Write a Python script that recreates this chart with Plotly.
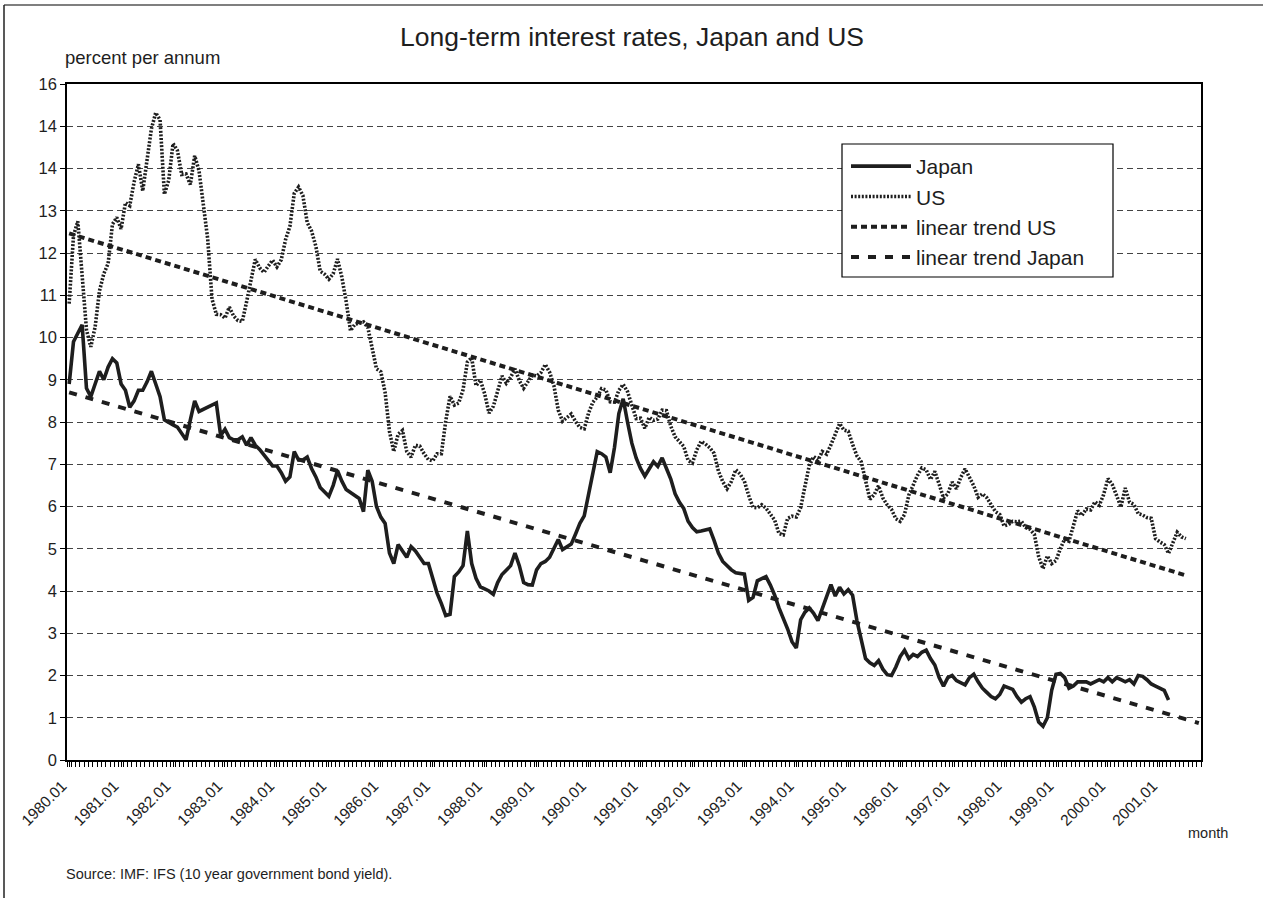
import numpy as np
import plotly.graph_objects as go

# monthly data, index 0 = 1980.01; the category axis runs 1980.01 - 2001.10
n_months = 262

us_rate = [
    10.80, 12.41, 12.75, 11.47, 10.18, 9.78, 10.25, 11.10, 11.51, 11.75, 12.68, 12.84,
    12.57, 13.19, 13.12, 13.68, 14.10, 13.47, 14.28, 14.94, 15.32, 15.15, 13.39, 13.72,
    14.59, 14.43, 13.86, 13.87, 13.62, 14.30, 13.95, 13.06, 12.34, 10.91, 10.55, 10.54,
    10.46, 10.72, 10.51, 10.40, 10.38, 10.85, 11.38, 11.85, 11.65, 11.54, 11.69, 11.83,
    11.67, 11.84, 12.32, 12.63, 13.41, 13.56, 13.36, 12.72, 12.52, 12.16, 11.57, 11.50,
    11.38, 11.51, 11.86, 11.43, 10.85, 10.16, 10.31, 10.33, 10.37, 10.24, 9.78, 9.26,
    9.19, 8.70, 7.78, 7.30, 7.71, 7.80, 7.30, 7.17, 7.45, 7.43, 7.25, 7.11,
    7.08, 7.25, 7.25, 8.02, 8.61, 8.40, 8.45, 8.76, 9.42, 9.52, 8.86, 8.99,
    8.67, 8.21, 8.37, 8.72, 9.09, 8.92, 9.06, 9.26, 8.98, 8.80, 8.96, 9.11,
    9.09, 9.17, 9.36, 9.18, 8.86, 8.28, 8.02, 8.11, 8.19, 8.01, 7.87, 7.84,
    8.21, 8.47, 8.59, 8.79, 8.76, 8.48, 8.47, 8.75, 8.89, 8.72, 8.39, 8.08,
    8.09, 7.85, 8.11, 8.04, 8.07, 8.28, 8.27, 7.90, 7.65, 7.53, 7.42, 7.09,
    7.03, 7.34, 7.54, 7.48, 7.39, 7.26, 6.84, 6.59, 6.42, 6.59, 6.87, 6.77,
    6.60, 6.26, 5.98, 5.97, 6.04, 5.96, 5.81, 5.68, 5.36, 5.33, 5.72, 5.77,
    5.75, 5.97, 6.48, 6.97, 7.18, 7.10, 7.30, 7.24, 7.46, 7.74, 7.96, 7.81,
    7.78, 7.47, 7.20, 7.06, 6.63, 6.17, 6.28, 6.49, 6.20, 6.04, 5.93, 5.71,
    5.65, 5.81, 6.27, 6.51, 6.74, 6.91, 6.87, 6.64, 6.83, 6.53, 6.20, 6.30,
    6.58, 6.42, 6.69, 6.89, 6.71, 6.49, 6.22, 6.30, 6.21, 6.03, 5.88, 5.81,
    5.54, 5.57, 5.65, 5.64, 5.65, 5.50, 5.46, 5.34, 4.81, 4.53, 4.83, 4.65,
    4.72, 5.00, 5.23, 5.18, 5.54, 5.90, 5.79, 5.94, 5.92, 6.11, 6.03, 6.28,
    6.66, 6.52, 6.26, 5.99, 6.44, 6.10, 6.05, 5.83, 5.80, 5.74, 5.72, 5.24,
    5.16, 5.10, 4.89, 5.14, 5.39, 5.28, 5.24,
]

japan_rate = [
    8.90, 9.90, 10.10, 10.30, 8.80, 8.60, 8.90, 9.20, 9.00, 9.30, 9.50, 9.40,
    8.90, 8.75, 8.35, 8.50, 8.75, 8.75, 8.95, 9.20, 8.90, 8.60, 8.05, 7.98,
    7.93, 7.88, 7.73, 7.58, 8.05, 8.50, 8.25, 8.30, 8.35, 8.40, 8.45, 7.68,
    7.83, 7.63, 7.58, 7.58, 7.65, 7.45, 7.63, 7.45, 7.35, 7.22, 7.10, 6.96,
    6.96, 6.80, 6.60, 6.70, 7.30, 7.10, 7.10, 7.17, 6.90, 6.70, 6.45, 6.35,
    6.24, 6.50, 6.85, 6.60, 6.40, 6.33, 6.25, 6.19, 5.88, 6.86, 6.60, 6.00,
    5.75, 5.60, 4.90, 4.65, 5.10, 4.95, 4.80, 5.05, 4.95, 4.80, 4.65,
    4.65, 4.30, 3.95, 3.70, 3.42, 3.45, 4.34, 4.45, 4.60, 5.42, 4.65, 4.30,
    4.10, 4.05, 4.00, 3.92, 4.20, 4.39, 4.50, 4.60, 4.90, 4.60, 4.20, 4.15,
    4.14, 4.50, 4.65, 4.70, 4.80, 5.00, 5.22, 4.98, 5.05, 5.11, 5.35, 5.60,
    5.78, 6.30, 6.80, 7.30, 7.25, 7.17, 6.80, 7.40, 8.20, 8.55, 8.00, 7.50,
    7.15, 6.90, 6.72, 6.90, 7.06, 6.95, 7.15, 6.90, 6.65, 6.30, 6.10, 5.95,
    5.65, 5.50, 5.40, 5.42, 5.45, 5.47, 5.20, 4.90, 4.70, 4.60, 4.50, 4.43,
    4.42, 4.40, 3.78, 3.85, 4.24, 4.30, 4.34, 4.14, 3.90, 3.60, 3.37, 3.10,
    2.80, 2.65, 3.32, 3.50, 3.60, 3.47, 3.30, 3.60, 3.85, 4.15, 3.88, 4.09,
    3.93, 4.03, 3.90, 3.30, 2.85, 2.40, 2.30, 2.24, 2.35, 2.15, 2.02,
    2.00, 2.20, 2.45, 2.60, 2.40, 2.50, 2.45, 2.55, 2.60, 2.40, 2.25, 1.95,
    1.75, 1.95, 2.00, 1.88, 1.82, 1.78, 1.95, 2.03, 1.85, 1.70, 1.60, 1.50,
    1.45, 1.55, 1.75, 1.70, 1.67, 1.50, 1.37, 1.45, 1.50, 1.25, 0.90, 0.80,
    1.00, 1.65, 2.03, 2.05, 1.95, 1.70, 1.75, 1.85, 1.85, 1.85, 1.80, 1.85,
    1.90, 1.85, 1.95, 1.85, 1.95, 1.90, 1.85, 1.90, 1.80, 2.00, 1.98, 1.90,
    1.80, 1.75, 1.70, 1.65, 1.42,
]

years = list(range(1980, 2002))
tick_labels = [f"{y}.01" for y in years[:-1]] + ["2001,01"]
y_labels = ["0", "1", "2", "3", "4", "5", "6", "7", "8", "9", "10",
            "11", "12", "13", "14", "14", "16"]

x_us = np.arange(len(us_rate))
x_jp = np.arange(len(japan_rate))
x_all = np.arange(n_months)

# linear trends (least squares); the Japan one is carried to the end of the axis
us_trend = np.polyval(np.polyfit(x_us, us_rate, 1), x_us)
jp_trend = np.polyval(np.polyfit(x_jp, japan_rate, 1), x_all)

# plot area in pixels
W, H = 1263, 898
L, R, T, B = 67, 1201, 84, 760


def px(x):
    return (x - L) / (R - L)


def py(y):
    return (B - y) / (B - T)


ink = "#1e1e1e"
font = "Liberation Sans, Arial, sans-serif"

fig = go.Figure()
fig.add_trace(go.Scatter(x=x_jp, y=japan_rate, name="Japan", mode="lines",
                         line=dict(color=ink, width=3.6)))
fig.add_trace(go.Scatter(x=x_us, y=us_rate, name="US", mode="lines",
                         line=dict(color=ink, width=3.6, dash="2px,1.6px")))
fig.add_trace(go.Scatter(x=x_us, y=us_trend, name="linear trend US", mode="lines",
                         line=dict(color=ink, width=4, dash="6px,4px")))
fig.add_trace(go.Scatter(x=x_all, y=jp_trend, name="linear trend Japan", mode="lines",
                         line=dict(color=ink, width=4, dash="8px,9px")))

fig.update_layout(
    width=W, height=H,
    margin=dict(l=L, r=W - R, t=T, b=H - B),
    paper_bgcolor="white", plot_bgcolor="white",
    font=dict(family=font, size=16, color=ink),
    showlegend=True,
    legend=dict(x=px(846), y=py(146), xanchor="left", yanchor="top",
                borderwidth=0, bgcolor="rgba(0,0,0,0)", itemwidth=60,
                font=dict(size=21)),
    annotations=[
        dict(text="Long-term interest rates, Japan and US", x=px(632), y=py(37),
             xref="paper", yref="paper", showarrow=False, font=dict(size=26.5),
             xanchor="center", yanchor="middle"),
        dict(text="percent per annum", x=px(63), y=py(57), xref="paper", yref="paper",
             showarrow=False, font=dict(size=18.5), xanchor="left", yanchor="middle"),
        dict(text="month", x=px(1230), y=py(833), xref="paper", yref="paper",
             showarrow=False, font=dict(size=14.5), xanchor="right", yanchor="middle"),
        dict(text="Source: IMF: IFS (10 year government bond yield).", x=px(64), y=py(874),
             xref="paper", yref="paper", showarrow=False, font=dict(size=14.5),
             xanchor="left", yanchor="middle"),
    ],
    shapes=[
        dict(type="line", xref="paper", yref="paper", x0=px(4), x1=px(1263),
             y0=py(5), y1=py(5), line=dict(color="#555", width=1.5)),
        dict(type="line", xref="paper", yref="paper", x0=px(4), x1=px(4),
             y0=py(5), y1=py(898), line=dict(color="#222", width=1.5)),
        # legend box
        dict(type="rect", xref="paper", yref="paper", layer="above",
             x0=px(842), x1=px(1113), y0=py(144), y1=py(277),
             fillcolor="white", line=dict(color="black", width=1.2)),
    ],
)

fig.update_xaxes(
    range=[-0.5, n_months - 0.5], tickmode="array",
    tickvals=[12 * k for k in range(len(years))], ticktext=tick_labels,
    tickangle=-45, ticks="outside", ticklen=5, tickcolor="black",
    ticklabelshift=-7, ticklabelstandoff=4,
    showline=True, linecolor="black", linewidth=1.5, mirror=True,
    showgrid=False, zeroline=False, tickfont=dict(size=15.5),
    minor=dict(ticks="outside", ticklen=5, tickcolor="black",
               tickmode="linear", tick0=-0.5, dtick=1, showgrid=False),
)
fig.update_yaxes(
    range=[0, 16], tickmode="array", tickvals=list(range(17)), ticktext=y_labels,
    ticks="outside", ticklen=5, tickcolor="black",
    showline=True, linecolor="black", linewidth=1.5, mirror=True,
    showgrid=True, gridcolor="#444", gridwidth=1, griddash="6px,4px",
    zeroline=False, tickfont=dict(size=16.5),
)

# the page body has a default 8px margin; drop it so the chart sits at the origin
fig.write_html("out.html", config={"displayModeBar": False},
               post_script="document.body.style.margin='0';")
